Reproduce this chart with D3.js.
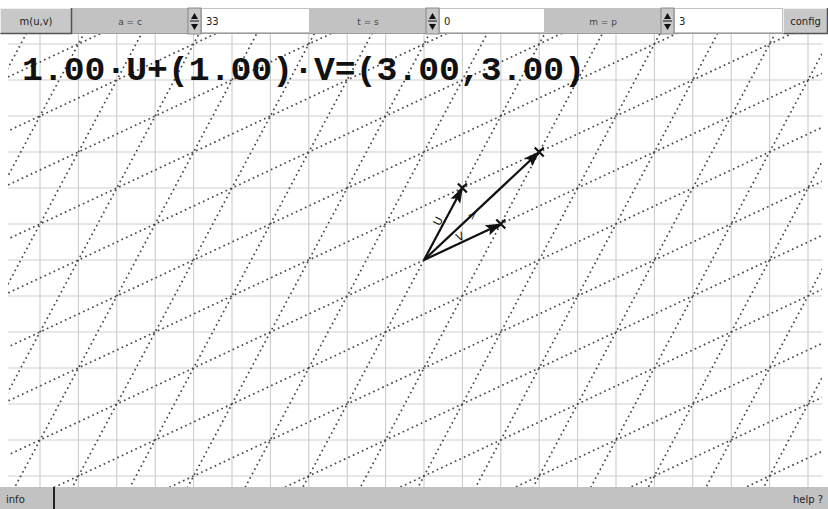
<!DOCTYPE html>
<html>
<head>
<meta charset="utf-8">
<script src="https://cdn.jsdelivr.net/npm/d3@7"></script>
<style>
  body { margin: 0; background: #fff; }
  svg { display: block; }
</style>
</head>
<body>
<svg id="chart" width="828" height="509"></svg>
<script>
// basis vectors and coefficients
var vecU = [1, 2];
var vecV = [2, 1];
var coefs = [1, 1];
var gridX = d3.range(-11, 12);
var gridY = d3.range(-7, 8);
var lattice = d3.range(-12, 13);
var fieldValues = ["33", "0", "3"];
var fieldLabels = ["a = c", "t = s", "m = p"];

var W = 828, H = 509;
var svg = d3.select("#chart");

var x = d3.scaleLinear().domain([0, 1]).range([424, 462.4]);
var y = d3.scaleLinear().domain([0, 1]).range([260, 224]);

var plotTop = 34, plotBottom = 487, plotLeft = 8, plotRight = 822;

svg.append("rect").attr("width", W).attr("height", H).attr("fill", "#fff");

var defs = svg.append("defs");
defs.append("clipPath").attr("id", "plot")
  .append("rect").attr("x", plotLeft).attr("y", plotTop)
  .attr("width", plotRight - plotLeft).attr("height", plotBottom - plotTop);

var g = svg.append("g").attr("clip-path", "url(#plot)");

// grid
g.selectAll(".gx").data(gridX).enter().append("line")
  .attr("x1", d => x(d)).attr("x2", d => x(d))
  .attr("y1", plotTop).attr("y2", plotBottom)
  .attr("stroke", "#d0d0d0").attr("stroke-width", 1.2);
g.selectAll(".gy").data(gridY).enter().append("line")
  .attr("y1", d => y(d)).attr("y2", d => y(d))
  .attr("x1", plotLeft).attr("x2", plotRight)
  .attr("stroke", "#d0d0d0").attr("stroke-width", 1.2);

// lattice lines: parallel to U through k*V, parallel to V through k*U
function latticeLines(dir, base) {
  return lattice.map(function(k) {
    var p = [k * base[0], k * base[1]];
    return [[p[0] - 20 * dir[0], p[1] - 20 * dir[1]], [p[0] + 20 * dir[0], p[1] + 20 * dir[1]]];
  });
}
var lines = latticeLines(vecU, vecV).concat(latticeLines(vecV, vecU));
g.selectAll(".lat").data(lines).enter().append("line")
  .attr("x1", d => x(d[0][0])).attr("y1", d => y(d[0][1]))
  .attr("x2", d => x(d[1][0])).attr("y2", d => y(d[1][1]))
  .attr("stroke", "#4a4a4a").attr("stroke-width", 1.7)
  .attr("stroke-dasharray", "1.7,3.3");

// arrowhead
defs.append("marker")
  .attr("id", "arr").attr("viewBox", "0 -6 16 12")
  .attr("refX", 15).attr("refY", 0)
  .attr("markerWidth", 16).attr("markerHeight", 12)
  .attr("markerUnits", "userSpaceOnUse")
  .attr("orient", "auto")
  .append("path").attr("d", "M0,-5.5L16,0L0,5.5L3,0Z").attr("fill", "#111");

var sum = [coefs[0] * vecU[0] + coefs[1] * vecV[0], coefs[0] * vecU[1] + coefs[1] * vecV[1]];
var vectors = [
  { v: [coefs[0] * vecU[0], coefs[0] * vecU[1]], name: "U" },
  { v: [coefs[1] * vecV[0], coefs[1] * vecV[1]], name: "V" },
  { v: sum, name: ">" }
];

g.selectAll(".vec").data(vectors).enter().append("line")
  .attr("x1", x(0)).attr("y1", y(0))
  .attr("x2", d => x(d.v[0])).attr("y2", d => y(d.v[1]))
  .attr("stroke", "#111").attr("stroke-width", 2.2)
  .attr("marker-end", "url(#arr)");

// cross at tips
vectors.forEach(function(d) {
  var px = x(d.v[0]), py = y(d.v[1]);
  g.append("path")
    .attr("d", `M${px - 4.5},${py - 4.5}L${px + 4.5},${py + 4.5}M${px - 4.5},${py + 4.5}L${px + 4.5},${py - 4.5}`)
    .attr("stroke", "#111").attr("stroke-width", 2.2);
});

// labels along vectors
vectors.forEach(function(d) {
  var ex = x(d.v[0]) - x(0), ey = y(d.v[1]) - y(0);
  var ang = Math.atan2(ey, ex) * 180 / Math.PI;
  var t = d.name === ">" ? 0.42 : 0.5;
  var px = x(0) + ex * t, py = y(0) + ey * t;
  g.append("text")
    .attr("transform", `translate(${px},${py}) rotate(${ang})`)
    .attr("dy", d.name === ">" ? 4 : -2)
    .attr("text-anchor", "middle")
    .attr("font-family", "DejaVu Sans, sans-serif")
    .attr("font-size", 11)
    .attr("fill", "#111")
    .text(d.name);
});

// formula
var f = d3.format(".2f");
svg.append("text")
  .attr("x", 22).attr("y", 80)
  .attr("font-family", "Liberation Mono, Courier New, monospace")
  .attr("font-weight", "bold")
  .attr("font-size", 33)
  .attr("textLength", 563)
  .attr("lengthAdjust", "spacingAndGlyphs")
  .attr("fill", "#111")
  .text(`${f(coefs[0])}\u00b7U+(${f(coefs[1])})\u00b7V=(${f(sum[0])},${f(sum[1])})`);

// top toolbar
var bar = svg.append("g");
bar.append("rect").attr("x", 0).attr("y", 8).attr("width", W).attr("height", 26).attr("fill", "#c2c2c2");
bar.append("line").attr("x1", 0).attr("x2", W).attr("y1", 33.5).attr("y2", 33.5).attr("stroke", "#9a9a9a");

function button(x0, w, label) {
  bar.append("rect").attr("x", x0).attr("y", 8).attr("width", w).attr("height", 26).attr("fill", "#c8c8c8");
  bar.append("path").attr("d", `M${x0 + 0.5},33V8.5H${x0 + w - 1}`).attr("stroke", "#eee").attr("fill", "none");
  bar.append("path").attr("d", `M${x0 + 0.5},33.5H${x0 + w - 0.5}V8`).attr("stroke", "#555").attr("stroke-width", 1.5).attr("fill", "none");
  bar.append("text").attr("x", x0 + w / 2).attr("y", 25).attr("text-anchor", "middle")
    .attr("font-family", "DejaVu Sans, sans-serif").attr("font-size", 10).attr("fill", "#222").text(label);
}
button(0, 72, "m(u,v)");
button(783, 45, "config");

var groups = [72, 310, 545];
groups.forEach(function(gx, i) {
  bar.append("text").attr("x", gx + 58).attr("y", 25).attr("text-anchor", "middle")
    .attr("font-family", "DejaVu Sans, sans-serif").attr("font-size", 9).attr("fill", "#444")
    .text(fieldLabels[i]);
  var sx = gx + 116;
  bar.append("rect").attr("x", sx).attr("y", 8).attr("width", 13).attr("height", 26).attr("fill", "#c8c8c8")
    .attr("stroke", "#777").attr("stroke-width", 0.8);
  bar.append("path").attr("d", `M${sx + 3},19L${sx + 6.5},13L${sx + 10},19Z`).attr("fill", "#111");
  bar.append("line").attr("x1", sx + 2).attr("x2", sx + 11).attr("y1", 21).attr("y2", 21).attr("stroke", "#111");
  bar.append("path").attr("d", `M${sx + 3},24L${sx + 6.5},30L${sx + 10},24Z`).attr("fill", "#111");
  var fx = sx + 14, fw = (i === 2 ? 783 : groups[i + 1]) - fx - 1;
  bar.append("rect").attr("x", fx).attr("y", 9).attr("width", fw).attr("height", 23).attr("fill", "#fff");
  bar.append("text").attr("x", fx + 4).attr("y", 25)
    .attr("font-family", "DejaVu Sans, sans-serif").attr("font-size", 10).attr("fill", "#222")
    .text(fieldValues[i]);
});

// bottom bar
var bb = svg.append("g");
bb.append("rect").attr("x", 0).attr("y", plotBottom).attr("width", W).attr("height", H - plotBottom).attr("fill", "#c2c2c2");
bb.append("line").attr("x1", 54).attr("x2", 54).attr("y1", plotBottom).attr("y2", H).attr("stroke", "#222").attr("stroke-width", 2);
bb.append("text").attr("x", 6).attr("y", 503)
  .attr("font-family", "DejaVu Sans, sans-serif").attr("font-size", 10).attr("fill", "#222").text("info");
bb.append("text").attr("x", 823).attr("y", 503).attr("text-anchor", "end")
  .attr("font-family", "DejaVu Sans, sans-serif").attr("font-size", 10).attr("fill", "#222").text("help ?");
</script>
</body>
</html>
